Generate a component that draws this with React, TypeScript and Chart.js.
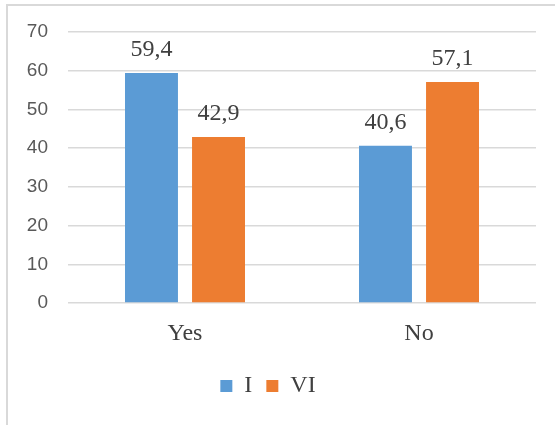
import React, { useEffect, useRef } from "react";
import { Chart, registerables } from "chart.js";

Chart.register(...registerables);

const categories = ["Yes", "No"];
const seriesNames = ["I", "VI"];
const seriesI = [59.4, 40.6];
const seriesVI = [42.9, 57.1];
const seriesColors = ["#5B9BD5", "#ED7D31"];
const yTicks = [0, 10, 20, 30, 40, 50, 60, 70];

const SERIF = "'Liberation Serif', 'Times New Roman', serif";
const SANS = "'Liberation Sans', Arial, sans-serif";

const dataLabelPlugin = {
  id: "dataLabels",
  afterDatasetsDraw(chart: any) {
    const ctx = chart.ctx;
    ctx.save();
    ctx.font = `24px ${SERIF}`;
    ctx.fillStyle = "#404040";
    ctx.textAlign = "center";
    ctx.textBaseline = "alphabetic";
    chart.data.datasets.forEach((ds: any, i: number) => {
      const meta = chart.getDatasetMeta(i);
      meta.data.forEach((el: any, j: number) => {
        const v = ds.data[j];
        ctx.fillText(String(v).replace(".", ","), el.x, el.y - 17);
      });
    });
    ctx.restore();
  },
};

export default function App() {
  const ref = useRef<HTMLCanvasElement>(null);
  useEffect(() => {
    if (!ref.current) return;
    const chart = new Chart(ref.current, {
      type: "bar",
      data: {
        labels: categories,
        datasets: [
          { label: seriesNames[0], data: seriesI, backgroundColor: seriesColors[0] },
          { label: seriesNames[1], data: seriesVI, backgroundColor: seriesColors[1] },
        ],
      },
      options: {
        responsive: false,
        animation: false,
        devicePixelRatio: 1,
        layout: { padding: { top: 32, right: 19, left: 0, bottom: 17 } },
        datasets: { bar: { categoryPercentage: 0.573, barPercentage: 0.79 } },
        scales: {
          x: {
            grid: { display: false, drawTicks: false },
            border: { display: false },
            ticks: { font: { family: SERIF, size: 24 }, color: "#404040", padding: 16 },
            afterFit: (s: any) => { s.height = 57; },
          },
          y: {
            min: 0,
            max: 70,
            afterBuildTicks: (s: any) => { s.ticks = yTicks.map((v) => ({ value: v })); },
            grid: { color: "#d9d9d9", lineWidth: 1.5, drawTicks: false },
            border: { display: false },
            ticks: { font: { family: SANS, size: 19 }, color: "#595959", padding: 20 },
            afterFit: (s: any) => { s.width = 68; },
          },
        },
        plugins: {
          legend: {
            position: "bottom",
            labels: {
              boxWidth: 12,
              boxHeight: 12,
              font: { family: SERIF, size: 24 },
              color: "#404040",
              padding: 14,
            },
          },
          tooltip: { enabled: false },
        },
      },
      plugins: [dataLabelPlugin],
    });
    return () => chart.destroy();
  }, []);
  return (
    <div style={{ position: "fixed", left: 0, top: 0, width: 555, height: 425, overflow: "hidden", background: "#fff" }}>
      <div style={{ position: "absolute", left: 6, top: 4, width: 600, height: 500, border: "2px solid #d9d9d9", boxSizing: "border-box" }} />
      <canvas ref={ref} width={555} height={425} style={{ position: "absolute", left: 0, top: 0, width: 555, height: 425 }} />
    </div>
  );
}
